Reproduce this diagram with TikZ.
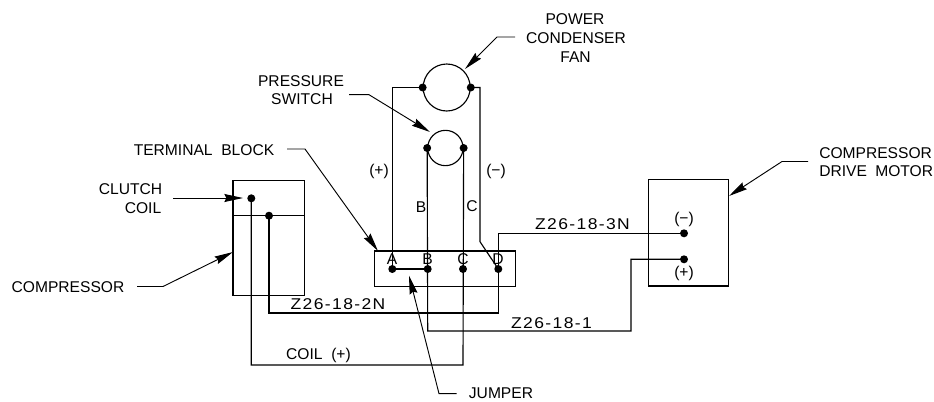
\documentclass[tikz,border=0pt]{standalone}
\usepackage{fontspec}
\setmainfont{Liberation Sans}
\newfontfamily\wirefont[FakeStretch=1.12,LetterSpace=9]{Liberation Sans}
\usetikzlibrary{arrows.meta}
\tikzset{
  wire/.style={draw=black,line width=0.85pt,line join=miter},
  boxline/.style={draw=black,line width=0.85pt},
  dot/.style={circle,fill=black,draw=none,minimum size=6pt,inner sep=0pt},
  leader/.style={draw=black,line width=0.7pt,-{Stealth[length=14pt,width=6pt,inset=1.5pt]}},
  lbl/.style={font=\fontsize{11.7}{14}\selectfont,inner sep=0pt,align=center},
  wlbl/.style={font=\fontsize{11.7}{14}\selectfont\wirefont,inner sep=0pt},
  dev/.style={circle,draw=black,line width=0.85pt,inner sep=0pt}
}
\begin{document}
\begin{tikzpicture}[x=0.75pt,y=-0.75pt]
\useasboundingbox (0,0) rectangle (934,401);
% devices
\node[dev,minimum size=35.25pt] (fan) at (446.7,87.5) {};
\node[dev,minimum size=26.5pt] (sw) at (445.4,148) {};
\node[dot] (fanL) at (fan.west) {};
\node[dot] (fanR) at (fan.east) {};
\node[dot] (swL) at (sw.west) {};
\node[dot] (swR) at (sw.east) {};
% terminal block
\node[boxline,minimum width=105.9pt,minimum height=26.8pt,inner sep=0pt] (tb) at (445.3,268.9) {};
\node[dot] (tA) at (392.3,269) {};
\node[dot] (tB) at (427.7,269) {};
\node[dot] (tC) at (463,269) {};
\node[dot] (tD) at (498.3,269) {};
% compressor
\node[boxline,minimum width=53.8pt,minimum height=86.5pt,inner sep=0pt] (comp) at (268.9,238) {};
\node[dot] (cc1) at (251.3,198.3) {};
\node[dot] (cc2) at (269,215.7) {};
\coordinate (compL) at (233,215.7);
\coordinate (compR) at (304.7,215.7);
% motor
\node[boxline,minimum width=60pt,minimum height=80pt,inner sep=0pt] (mot) at (688.3,232.6) {};
\node[dot] (mN) at (684,233.3) {};
\node[dot] (mP) at (684,259.3) {};
% wires
\draw[wire] (fanL.center) -- (392.3,87.5) -- (tA.center);
\draw[wire] (fanR.center) -- (480,87.5) -- (480,241.7) -- (tD.center);
\draw[wire] (tA.center) -- (tB.center);
\draw[wire] (swL.center) -- (427.7,331) -- (631,331) -- (631,259.3) -- (mP.center);
\draw[wire] (swR.center) -- (463,365) -- (251.3,365) -- (cc1.center);
\draw[wire] (tD.center) -- (498.3,233.3) -- (mN.center);
\draw[wire] (tD.center) -- (498.3,313) -- (269,313) -- (cc2.center);
\draw[wire] (compL) -- (compR);
% labels
\node[lbl] (lPow) at (575,19) {POWER};
\node[lbl] (lCon) at (576,37.7) {CONDENSER};
\node[lbl] (lFan) at (575.5,57) {FAN};
\node[lbl] (lPre) at (301,80.7) {PRESSURE};
\node[lbl] (lSwi) at (302,99) {SWITCH};
\node[lbl] (lTer) at (204,150) {TERMINAL\ \ BLOCK};
\node[lbl] (lClu) at (130.5,189) {CLUTCH};
\node[lbl] (lCoi) at (143,208) {COIL};
\node[lbl] (lCom) at (68,286.7) {COMPRESSOR};
\node[lbl,anchor=west] (lCm2) at (819,153) {COMPRESSOR};
\node[lbl,anchor=west] (lDri) at (819,171) {DRIVE\kern3pt\ MOTOR};
\node[lbl] (lJum) at (501,393) {JUMPER};
\node[lbl] (lP) at (379,171) {(+)};
\node[lbl] (lM) at (496,171) {(\textminus)};
\node[lbl] (lB) at (421,207) {B};
\node[lbl] (lC) at (472,206) {C};
\node[lbl] (tLA) at (392,259) {A};
\node[lbl] (tLB) at (427.5,259) {B};
\node[lbl] (tLC) at (463,259) {C};
\node[lbl] (tLD) at (498,259) {D};
\node[lbl] (mLN) at (684,219) {(\textminus)};
\node[lbl] (mLP) at (684,273) {(+)};
\node[wlbl] (z3) at (582.5,224.5) {Z26-18-3N};
\node[wlbl] (z2) at (338,304) {Z26-18-2N};
\node[wlbl] (z1) at (551.5,323) {Z26-18-1};
\node[lbl] (coil) at (318.5,355.5) {COIL\ \ (+)};
% leaders
\coordinate (a1) at (515,37); \coordinate (a2) at (497,37); \coordinate (a3) at (465,69);
\draw[leader] (a1) -- (a2) -- (a3);
\coordinate (b1) at (349,94.7); \coordinate (b2) at (369,94.7); \coordinate (b3) at (430,132);
\draw[leader] (b1) -- (b2) -- (b3);
\coordinate (c1) at (287,149); \coordinate (c2) at (305,149); \coordinate (c3) at (378,251);
\draw[leader] (c1) -- (c2) -- (c3);
\coordinate (d1) at (173,198); \coordinate (d3) at (243,198);
\draw[leader] (d1) -- (d3);
\coordinate (e1) at (137,286.5); \coordinate (e2) at (163,286.5); \coordinate (e3) at (233,252);
\draw[leader] (e1) -- (e2) -- (e3);
\coordinate (f1) at (808,161.5); \coordinate (f2) at (782,161.5); \coordinate (f3) at (729,196);
\draw[leader] (f1) -- (f2) -- (f3);
\coordinate (g1) at (456.7,393.6); \coordinate (g2) at (439,393.6); \coordinate (g3) at (409,275.5);
\draw[leader] (g1) -- (g2) -- (g3);
\end{tikzpicture}
\end{document}
